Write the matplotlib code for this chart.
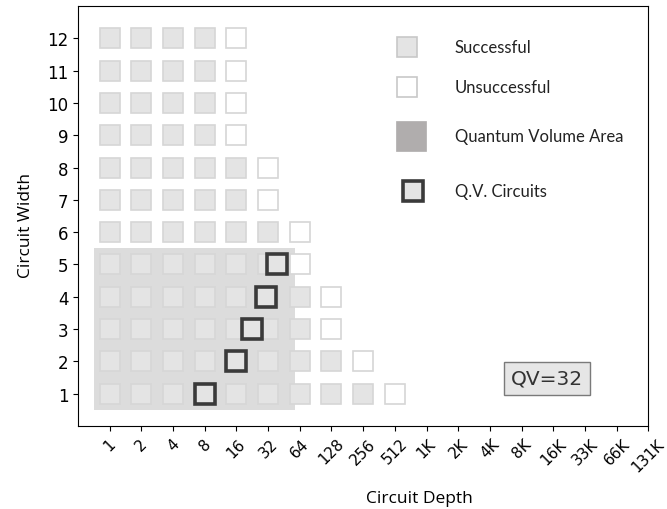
#!/usr/bin/env python3
# -*- coding: utf-8 -*-
import matplotlib.pyplot as plt
import numpy as np
from matplotlib.lines import Line2D
from matplotlib.patches import Rectangle

depth_labels = ["1", "2", "4", "8", "16", "32", "64", "128", "256", "512",
                "1K", "2K", "4K", "8K", "16K", "33K", "66K", "131K"]
widths = [1, 2, 3, 4, 5, 6, 7, 8, 9, 10, 11, 12]
# deepest successful depth per width, first failing depth follows it
max_success_depth = [256, 128, 64, 64, 32, 32, 16, 16, 8, 8, 8, 8]
failed_depth = [512, 256, 128, 128, 64, 64, 32, 32, 16, 16, 16, 16]

qv_widths = [1, 2, 3, 4, 5]
qv_depths = [8, 16, 22.6, 30.5, 38.6]
qv_value = 32
qv_area_width = 5
qv_area_depth = 58

SUCC_FACE = "#e4e4e4"
SUCC_EDGE = "#d6d6d6"
AREA = "#dcdcdc"

fig = plt.figure(figsize=(6.67, 5.10), dpi=100)
ax = fig.add_axes([0.117, 0.163, 0.855, 0.823])

# quantum volume area (log2 depth on the x axis)
ax.add_patch(Rectangle((-0.5, 0.5), np.log2(qv_area_depth) + 0.5, qv_area_width,
                       facecolor=AREA, edgecolor="none", zorder=1))

for w, ds, df in zip(widths, max_success_depth, failed_depth):
    xs = np.arange(0, np.log2(ds) + 1)
    ax.plot(xs, np.full(len(xs), w), ls="none", marker="s", ms=15,
            mfc=SUCC_FACE, mec=SUCC_EDGE, mew=1.2, zorder=2)
    ax.plot([np.log2(df)], [w], ls="none", marker="s", ms=15,
            mfc="white", mec=SUCC_EDGE, mew=1.2, zorder=2)

ax.plot(np.log2(qv_depths), qv_widths, ls="none", marker="s", ms=14, mfc=SUCC_FACE,
        mec="#3a3a3a", mew=2.6, zorder=3)

ax.set_xlim(-1, 17)
ax.set_ylim(0, 13)
ax.set_xticks(np.arange(len(depth_labels)))
ax.set_xticklabels(depth_labels, rotation=45, ha="center", fontsize=11)
ax.set_yticks(widths)
ax.set_yticklabels([str(w) for w in widths], fontsize=12)
ax.set_xlabel("Circuit Depth", fontsize=12.5, family=["Open Sans", "DejaVu Sans"])
ax.set_ylabel("Circuit Width", fontsize=12.5, family=["Open Sans", "DejaVu Sans"])
ax.xaxis.set_label_coords(0.598, -0.152)
ax.yaxis.set_label_coords(-0.077, 0.479)

ax.text(13.8, 1.47, "QV=%d" % qv_value, fontsize=14.5, ha="center", va="center",
        color="#333333",
        bbox=dict(boxstyle="square,pad=0.35", facecolor="#e6e6e6", edgecolor="#7a7a7a"))

# hand made legend
lx, tx = 0.577, 0.661
fnt = dict(family=["Lato", "DejaVu Sans"], fontsize=12, va="center", color="#222222")
ax.add_line(Line2D([lx], [0.902], transform=ax.transAxes, ls="none", marker="s", ms=15,
                   mfc=SUCC_FACE, mec="#c8c8c8", mew=1.2))
ax.text(tx, 0.902, "Successful", transform=ax.transAxes, **fnt)
ax.add_line(Line2D([lx], [0.807], transform=ax.transAxes, ls="none", marker="s", ms=15,
                   mfc="white", mec="#c8c8c8", mew=1.2))
ax.text(tx, 0.807, "Unsuccessful", transform=ax.transAxes, **fnt)
ax.add_line(Line2D([lx + 0.006], [0.690], transform=ax.transAxes, ls="none", marker="s",
                   ms=21, mfc="#b0adad", mec="#b0adad", mew=0.5))
ax.text(tx, 0.690, "Quantum Volume Area", transform=ax.transAxes, **fnt)
ax.add_line(Line2D([lx + 0.01], [0.560], transform=ax.transAxes, ls="none", marker="s",
                   ms=14, mfc=SUCC_FACE, mec="#3a3a3a", mew=2.6))
ax.text(tx, 0.560, "Q.V. Circuits", transform=ax.transAxes, **fnt)

plt.savefig("out.png", dpi=100)
